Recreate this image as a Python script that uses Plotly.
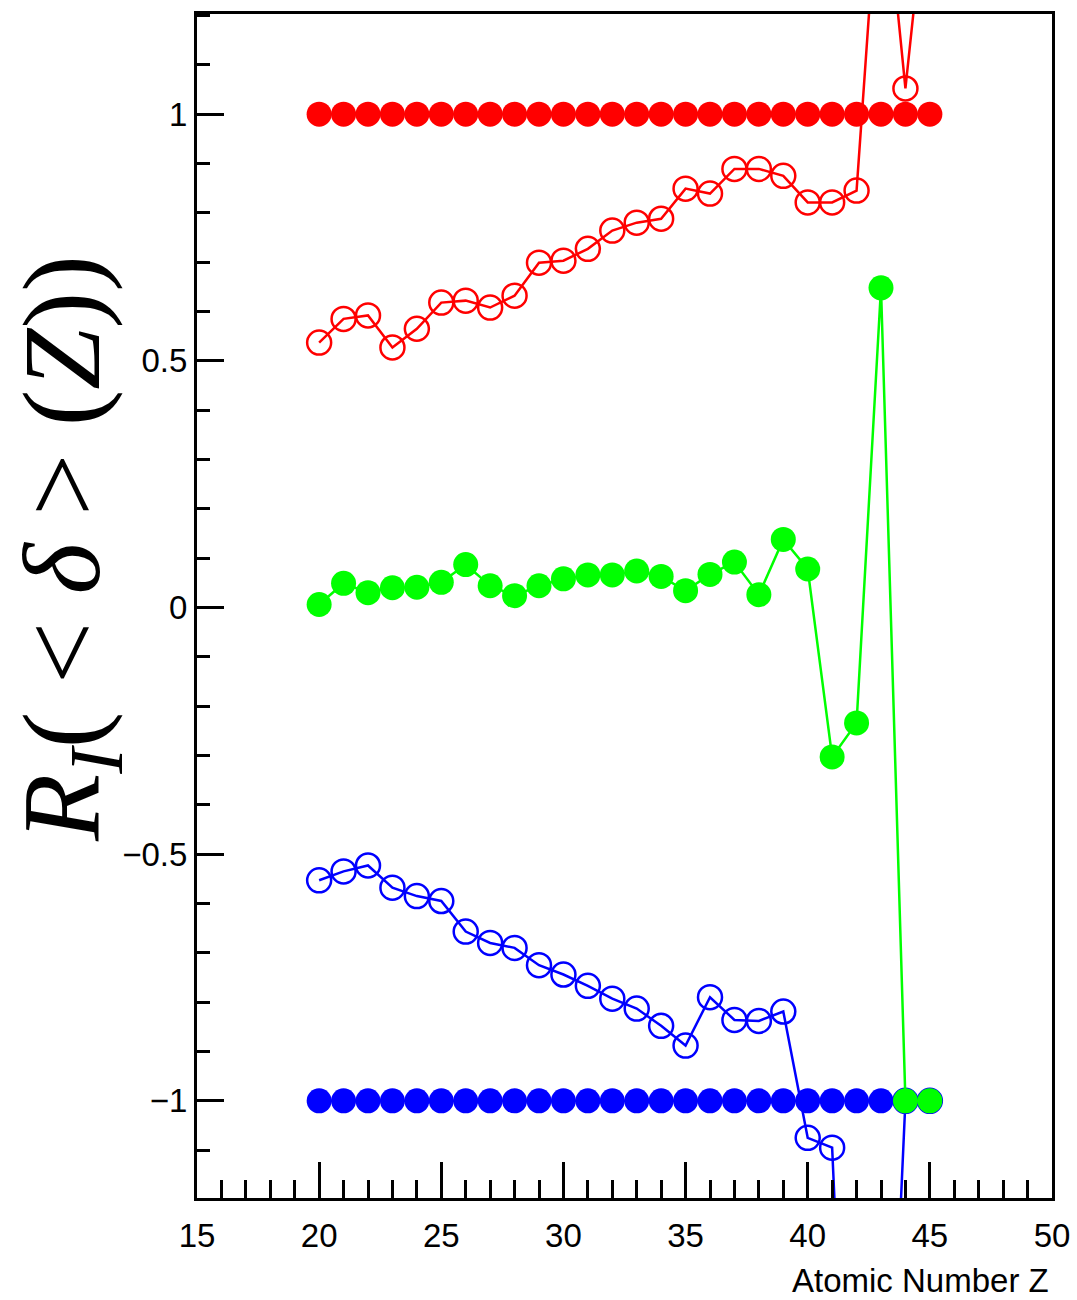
import plotly.graph_objects as go

# ---- data ----
z = list(range(20, 46))

red_filled = [1.0] * 26
red_open = [0.537, 0.585, 0.592, 0.527, 0.565, 0.618, 0.622, 0.608, 0.632, 0.699,
            0.703, 0.727, 0.764, 0.780, 0.788, 0.849, 0.839, 0.889, 0.889, 0.875,
            0.821, 0.821, 0.845, 1.55, 1.052, 1.52]
green = [0.006, 0.049, 0.030, 0.040, 0.041, 0.051, 0.087, 0.044, 0.024, 0.044,
         0.058, 0.066, 0.066, 0.074, 0.063, 0.034, 0.067, 0.092, 0.026, 0.138,
         0.078, -0.303, -0.234, 0.648, -1.0, -1.0]
blue_filled = [-1.0] * 26
blue_open = [-0.553, -0.535, -0.523, -0.568, -0.585, -0.595, -0.657, -0.680, -0.690, -0.725,
             -0.744, -0.767, -0.793, -0.813, -0.848, -0.888, -0.790, -0.836, -0.838, -0.819,
             -1.075, -1.095, -2.2, -2.1, -1.0, -1.0]

x_ticks = [15, 20, 25, 30, 35, 40, 45, 50]
y_ticks = [-1, -0.5, 0, 0.5, 1]
y_ticktext = ["\u22121", "\u22120.5", "0", "0.5", "1"]

RED = "#ff0000"
GREEN = "#00ff00"
BLUE = "#0000ff"

fig = go.Figure()

def filled(y, color):
    return go.Scatter(x=z, y=y, mode="lines+markers",
                      line=dict(color=color, width=2.5),
                      marker=dict(symbol="circle", size=25, color=color, line=dict(width=0)),
                      showlegend=False)

def opened(y, color):
    return go.Scatter(x=z, y=y, mode="lines+markers",
                      line=dict(color=color, width=2.5),
                      marker=dict(symbol="circle-open", size=24, color=color,
                                  line=dict(width=2.5, color=color)),
                      showlegend=False)

fig.add_trace(filled(blue_filled, BLUE))
fig.add_trace(opened(blue_open, BLUE))
fig.add_trace(filled(red_filled, RED))
fig.add_trace(opened(red_open, RED))
fig.add_trace(filled(green, GREEN))

fig.update_layout(
    width=1077, height=1300,
    margin=dict(l=197, r=25, t=14, b=102, autoexpand=False),
    paper_bgcolor="white", plot_bgcolor="white",
    font=dict(family="Liberation Sans, Arial, sans-serif", size=33, color="black"),
)

fig.update_xaxes(
    range=[15, 50], tickvals=x_ticks, ticktext=[str(v) for v in x_ticks],
    automargin=False,
    showgrid=False, zeroline=False,
    showline=True, linecolor="black", linewidth=3, mirror=True,
    ticks="inside", ticklen=36, tickwidth=2.5, tickcolor="black",
    ticklabelstandoff=6,
    tickfont=dict(size=33),
    minor=dict(dtick=1, tick0=15, ticks="inside", ticklen=18, tickwidth=2.5, tickcolor="black", showgrid=False),
)
fig.update_yaxes(
    range=[-1.197, 1.203], tickvals=y_ticks, ticktext=y_ticktext,
    automargin=False,
    showgrid=False, zeroline=False,
    showline=True, linecolor="black", linewidth=3, mirror=True,
    ticks="inside", ticklen=27, tickwidth=2.5, tickcolor="black",
    tickfont=dict(size=33),
    minor=dict(dtick=0.1, tick0=0, ticks="inside", ticklen=13, tickwidth=2.5, tickcolor="black", showgrid=False),
)

fig.add_annotation(
    text="Atomic Number Z", xref="paper", yref="paper", x=1, y=0,
    xanchor="right", yanchor="middle", xshift=-1, yshift=-82,
    showarrow=False, font=dict(size=33, color="black"),
)

fig.add_annotation(
    text="<i>R</i><sub><i>I</i></sub>(&nbsp;&lt;&nbsp;<i>\u03b4</i>&nbsp;&gt;&nbsp;(<i>Z</i>))",
    xref="paper", yref="paper", x=0, y=0.5, xshift=-127, yshift=57,
    xanchor="center", yanchor="middle", textangle=-90,
    showarrow=False,
    font=dict(family="Liberation Serif, Times New Roman, serif", size=110, color="black"),
)

fig.write_html("out.html")
